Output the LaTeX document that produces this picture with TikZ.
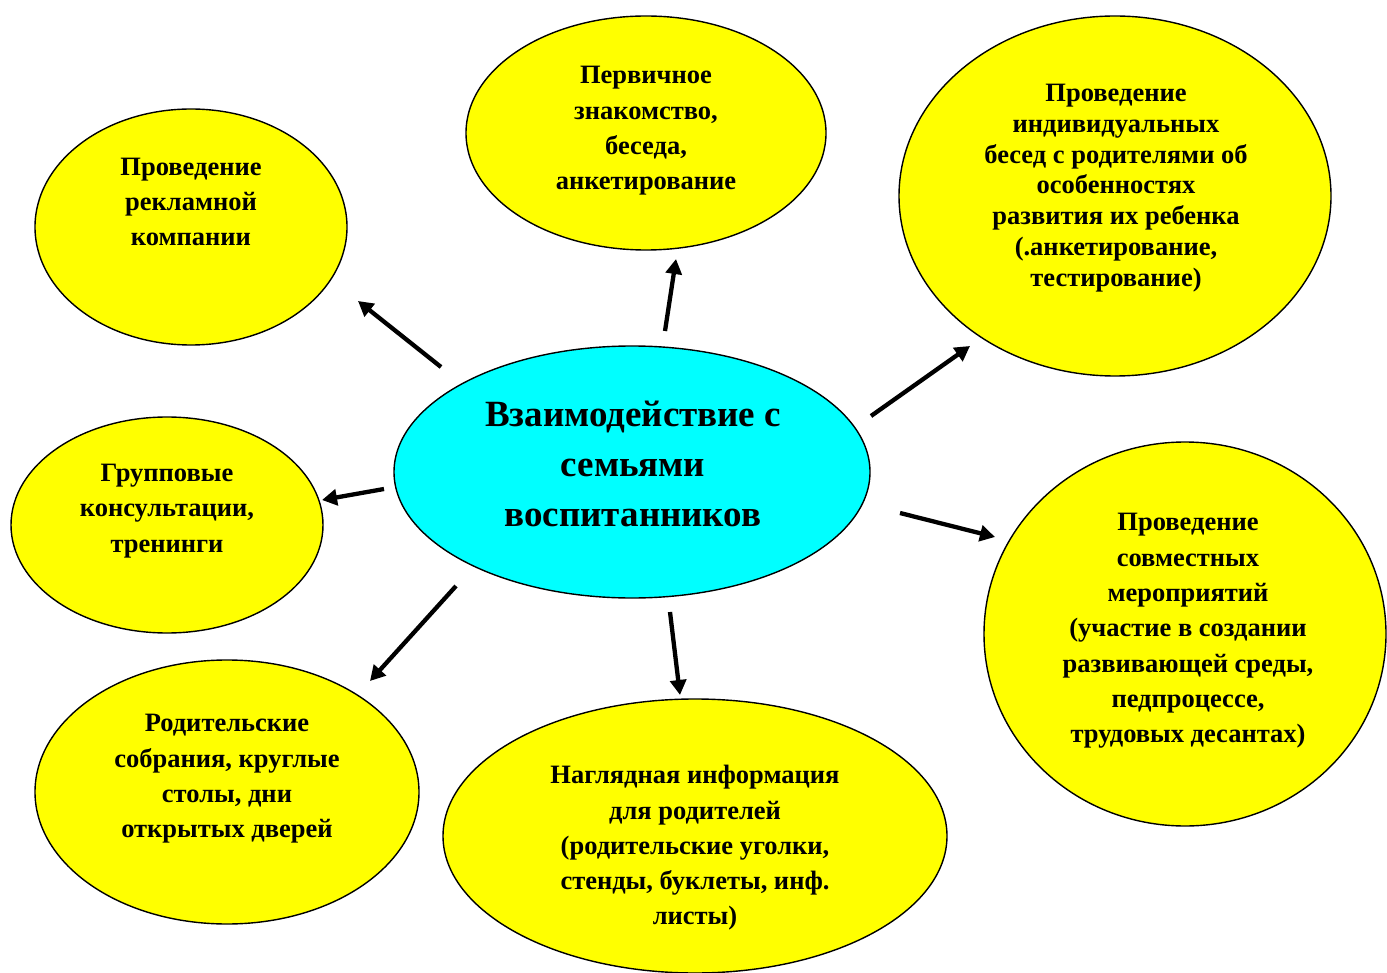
\documentclass[tikz,border=0pt]{standalone}
\usepackage{fontspec}
\setmainfont{Liberation Serif}
\usetikzlibrary{shapes.geometric,arrows.meta}
\definecolor{yel}{RGB}{255,255,0}
\definecolor{cyanc}{RGB}{0,255,255}
\tikzset{
  oval/.style={ellipse,draw=black,line width=1.4pt,inner sep=0pt},
  yoval/.style={oval,fill=yel},
  txt/.style={align=center,font=\bfseries\fontsize{26.5}{35.3}\selectfont,inner sep=0pt},
  arr/.style={line width=4.3pt,-{Triangle[length=15pt,width=16pt]}},
}
\begin{document}
\begin{tikzpicture}[x=1pt,y=-1pt]
\useasboundingbox (0,0) rectangle (1387,973);
% ellipses
\node[yoval,minimum width=312pt,minimum height=236pt] (e1) at (191,227) {};
\node[yoval,minimum width=360pt,minimum height=234pt] (e2) at (646,133) {};
\node[yoval,minimum width=432pt,minimum height=360pt] (e3) at (1115,196) {};
\node[oval,fill=cyanc,minimum width=476pt,minimum height=252pt] (c) at (632,472) {};
\node[yoval,minimum width=312pt,minimum height=216pt] (e5) at (167,525) {};
\node[yoval,minimum width=402pt,minimum height=384pt] (e6) at (1185,634) {};
\node[yoval,minimum width=384pt,minimum height=264pt] (e7) at (227,792) {};
\node[yoval,minimum width=504pt,minimum height=274pt] (e8) at (695,836) {};
% texts
\node[txt] (t1) at (191,202) {Проведение\\рекламной\\компании};
\node[txt] (t2) at (646,131) {Первичное\\знакомство,\\беседа,\\анкетирование};
\node[txt,font=\bfseries\fontsize{26.5}{30.8}\selectfont] (t3) at (1116,188) {Проведение\\индивидуальных\\бесед с родителями об\\особенностях\\развития их ребенка\\(.анкетирование,\\тестирование)};
\node[txt,font=\bfseries\fontsize{37}{50}\selectfont] (tc) at (633,464) {Взаимодействие с\\семьями\\воспитанников};
\node[txt] (t5) at (167,511) {Групповые\\консультации,\\тренинги};
\node[txt] (t6) at (1188,631) {Проведение\\совместных\\мероприятий\\(участие в создании\\развивающей среды,\\педпроцессе,\\трудовых десантах)};
\node[txt] (t7) at (227,779) {Родительские\\собрания, круглые\\столы, дни\\открытых дверей};
\node[txt] (t8) at (695,848) {Наглядная информация\\для родителей\\(родительские уголки,\\стенды, буклеты, инф.\\листы)};
% arrow endpoints
\coordinate (a1s) at (441,367); \coordinate (a1e) at (358,301);
\coordinate (a2s) at (665,331); \coordinate (a2e) at (676,259);
\coordinate (a3s) at (871,416); \coordinate (a3e) at (970,346);
\coordinate (a5s) at (384,489); \coordinate (a5e) at (322,500);
\coordinate (a6s) at (900,513); \coordinate (a6e) at (995,537);
\coordinate (a7s) at (456,586); \coordinate (a7e) at (370,681);
\coordinate (a8s) at (670,612); \coordinate (a8e) at (680,695);
\draw[arr] (a1s) -- (a1e);
\draw[arr] (a2s) -- (a2e);
\draw[arr] (a3s) -- (a3e);
\draw[arr] (a5s) -- (a5e);
\draw[arr] (a6s) -- (a6e);
\draw[arr] (a7s) -- (a7e);
\draw[arr] (a8s) -- (a8e);
\end{tikzpicture}
\end{document}
